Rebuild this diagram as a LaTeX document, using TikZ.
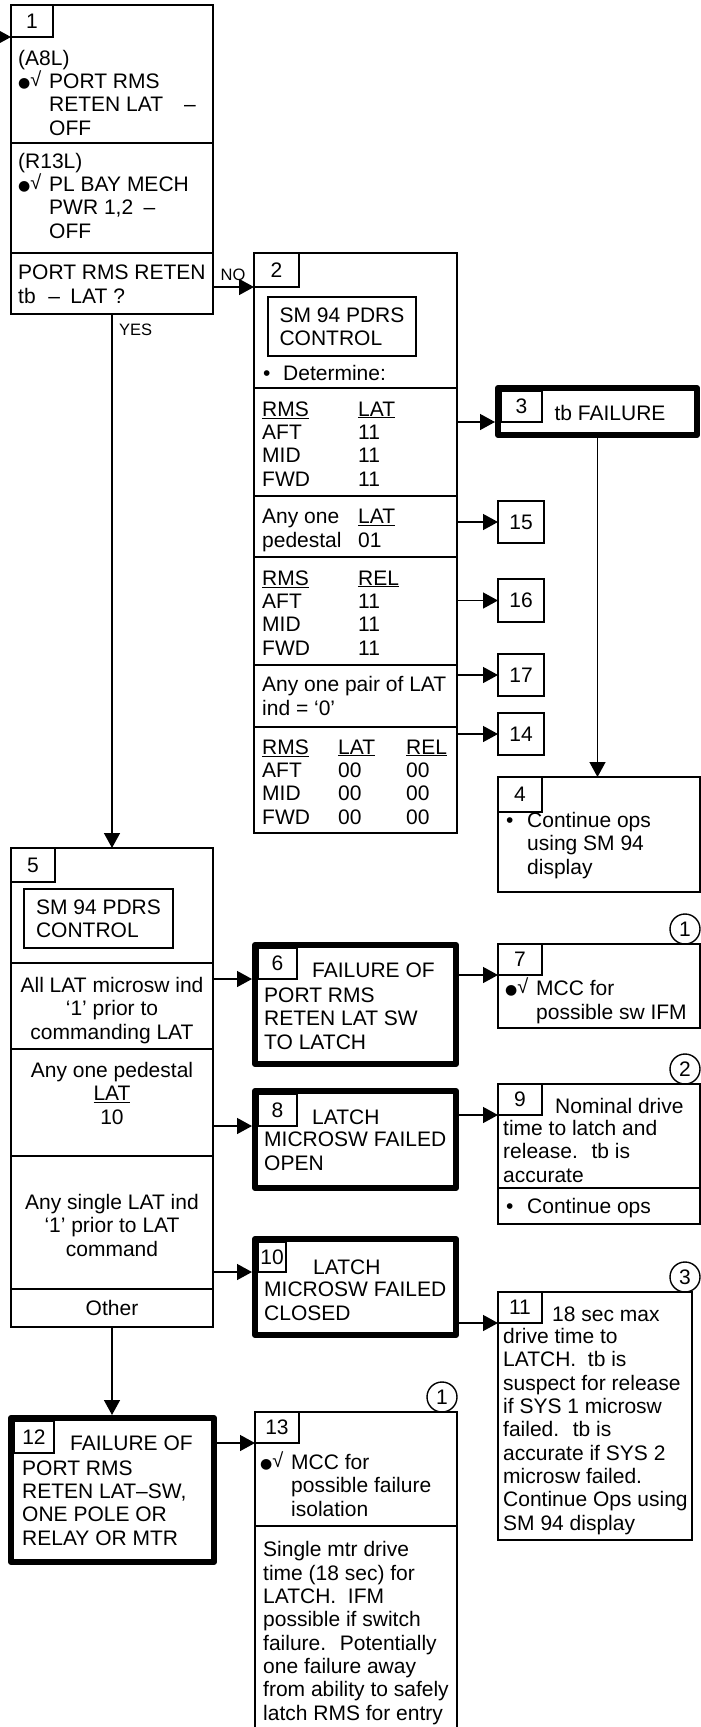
\documentclass[tikz,border=0pt]{standalone}
\usepackage{fontspec}
\setmainfont{Liberation Sans}
\newfontfamily\symfont{DejaVu Sans}
\usetikzlibrary{arrows.meta,positioning}
\newcommand{\bodyfont}{\fontsize{21}{23.3}\selectfont}
\newcommand{\tagfont}{\fontsize{16.5}{18}\selectfont}
\newcommand{\chk}{\makebox[31pt][l]{\raisebox{1pt}{\symfont\fontsize{14}{14}\selectfont ●}\raisebox{2pt}{\fontsize{20}{20}\selectfont √}}}
\newcommand{\ind}{\hspace*{31pt}}

\begin{document}
\begin{tikzpicture}[x=1pt, y=-1pt,
  panel/.style={draw, line width=1.4pt, anchor=north west, inner sep=0pt,
    outer sep=0pt, font=\bodyfont, align=left},
  heavy/.style={draw, line width=6pt, anchor=north west, inner sep=0pt,
    outer sep=3pt, line join=round},
  txt/.style={anchor=base west, align=left, inner sep=0pt, font=\bodyfont},
  ctr/.style={anchor=base, align=center, inner sep=0pt, font=\bodyfont},
  tag/.style={circle, draw, line width=1.4pt, minimum size=30pt, inner sep=0pt,
    font=\bodyfont},
  lbl/.style={inner sep=0pt, font=\tagfont},
  arrow/.style={-{Triangle[length=15pt, width=16pt]}, line width=1.4pt}]
\useasboundingbox (0,0) rectangle (701,1727);
\coordinate (entry) at (-10,37);
\node[panel, minimum width=202, minimum height=138] (s1a) at (11,5) {};
\node[panel, minimum width=202, minimum height=110] (s1b) at (11,143) {};
\node[panel, minimum width=202, minimum height=61] (s1c) at (11,253) {};
\node[panel, minimum width=42, minimum height=32] (t1) at (11,5) {1};
\node[txt] (x1a) at (18,135) {(A8L)\\\chk PORT RMS\\\ind RETEN LAT\hspace{1em}–\\\ind OFF};
\node[txt] (x1b) at (18,238) {(R13L)\\\chk PL BAY MECH\\\ind PWR 1,2\hspace{.5em}–\\\ind OFF};
\node[txt] (x1c) at (18,303) {PORT RMS RETEN\\tb\hspace{.6em}–\hspace{.5em}LAT ?};
\node[lbl] (no) at (233,275) {NO};
\node[lbl, anchor=west] (yes) at (119,330) {YES};

\node[panel, minimum width=203, minimum height=135] (s2a) at (254,253) {};
\node[panel, minimum width=203, minimum height=108] (s2b) at (254,388) {};
\node[panel, minimum width=203, minimum height=61] (s2c) at (254,496) {};
\node[panel, minimum width=203, minimum height=108] (s2d) at (254,557) {};
\node[panel, minimum width=203, minimum height=62] (s2e) at (254,665) {};
\node[panel, minimum width=203, minimum height=106] (s2f) at (254,727) {};
\node[panel, minimum width=45, minimum height=34] (t2) at (254,253) {2};
\node[panel, minimum width=148, minimum height=59] (m2) at (268,297) {SM 94 PDRS\\CONTROL};
\node[txt] (d2) at (263,380) {•};
\node[txt] (x2a) at (283,380) {Determine:};
\node[txt] (k2b) at (262,486) {\underline{RMS}\\AFT\\MID\\FWD};
\node[txt] (v2b) at (358,486) {\underline{LAT}\\11\\11\\11};
\node[txt] (k2c) at (262,547) {Any one\\pedestal};
\node[txt] (v2c) at (358,547) {\underline{LAT}\\01};
\node[txt] (k2d) at (262,655) {\underline{RMS}\\AFT\\MID\\FWD};
\node[txt] (v2d) at (358,655) {\underline{REL}\\11\\11\\11};
\node[txt] (x2e) at (262,715) {Any one pair of LAT\\ind = ‘0’};
\node[txt] (k2f) at (262,824) {\underline{RMS}\\AFT\\MID\\FWD};
\node[txt] (a2f) at (338,824) {\underline{LAT}\\00\\00\\00};
\node[txt] (r2f) at (406,824) {\underline{REL}\\00\\00\\00};

\node[heavy, minimum width=199, minimum height=47] (b3) at (495,385) {};
\node[panel, minimum width=41, minimum height=31] (t3) at (501,391) {3};
\node[ctr] (x3) at (610,420) {tb FAILURE};
\node[panel, minimum width=46, minimum height=42] (n15) at (498,501) {15};
\node[panel, minimum width=46, minimum height=43] (n16) at (498,579) {16};
\node[panel, minimum width=46, minimum height=42] (n17) at (498,654) {17};
\node[panel, minimum width=46, minimum height=42] (n14) at (498,713) {14};

\node[panel, minimum width=202, minimum height=115] (b4) at (498,777) {};
\node[panel, minimum width=44, minimum height=35] (t4) at (498,777) {4};
\node[txt] (d4) at (506,827) {•};
\node[txt] (x4) at (527,874) {Continue ops\\using SM 94\\display};

\node[panel, minimum width=202, minimum height=115] (s5a) at (11,848) {};
\node[panel, minimum width=202, minimum height=86] (s5b) at (11,963) {};
\node[panel, minimum width=202, minimum height=107] (s5c) at (11,1049) {};
\node[panel, minimum width=202, minimum height=133] (s5d) at (11,1156) {};
\node[panel, minimum width=202, minimum height=38] (s5e) at (11,1289) {};
\node[panel, minimum width=44, minimum height=34] (t5) at (11,848) {5};
\node[panel, minimum width=149, minimum height=59] (m5) at (24,889) {SM 94 PDRS\\CONTROL};
\node[ctr] (x5b) at (112,1039) {All LAT microsw ind\\‘1’ prior to\\commanding LAT};
\node[ctr] (x5c) at (112,1124) {Any one pedestal\\\underline{LAT}\\10};
\node[ctr] (x5d) at (112,1256) {Any single LAT ind\\‘1’ prior to LAT\\command};
\node[ctr] (x5e) at (112,1315) {Other};

\node[heavy, minimum width=201, minimum height=119] (b6) at (252,942) {};
\node[panel, minimum width=39, minimum height=31] (t6) at (258,948) {6};
\node[txt] (h6) at (312,977) {FAILURE OF};
\node[txt] (x6) at (264,1049) {PORT RMS\\RETEN LAT SW\\TO LATCH};

\node[panel, minimum width=202, minimum height=84] (b7) at (498,944) {};
\node[panel, minimum width=44, minimum height=31] (t7) at (498,944) {7};
\node[tag] (c7) at (685,929) {1};
\node[txt] (x7) at (505,1019) {\chk MCC for\\\ind possible sw IFM};

\node[heavy, minimum width=201, minimum height=97] (b8) at (252,1088) {};
\node[panel, minimum width=39, minimum height=32] (t8) at (258,1094) {8};
\node[txt] (h8) at (312,1124) {LATCH};
\node[txt] (x8) at (264,1170) {MICROSW FAILED\\OPEN};

\node[panel, minimum width=202, minimum height=104] (s9a) at (498,1084) {};
\node[panel, minimum width=202, minimum height=36] (s9b) at (498,1188) {};
\node[panel, minimum width=44, minimum height=31] (t9) at (498,1084) {9};
\node[tag] (c9) at (685,1069) {2};
\node[txt] (h9) at (555,1113) {Nominal drive};
\node[txt] (x9) at (503,1182) {time to latch and\\release.~ tb is\\accurate};
\node[txt] (d9) at (506,1213) {•};
\node[txt] (y9) at (527,1213) {Continue ops};

\node[heavy, minimum width=201, minimum height=96] (b10) at (252,1236) {};
\node[panel, minimum width=28, minimum height=30] (t10) at (258,1242) {10};
\node[txt] (h10) at (313,1274) {LATCH};
\node[txt] (x10) at (264,1320) {MICROSW FAILED\\CLOSED};

\node[panel, minimum width=194, minimum height=248] (b11) at (498,1292) {};
\node[panel, minimum width=44, minimum height=31] (t11) at (498,1292) {11};
\node[tag] (c11) at (685,1277) {3};
\node[txt] (h11) at (552,1321) {18 sec max};
\node[txt] (x11) at (503,1530) {drive time to\\LATCH.~ tb is\\suspect for release\\if SYS 1 microsw\\failed.~ tb is\\accurate if SYS 2\\microsw failed.\\Continue Ops using\\SM 94 display};

\node[heavy, minimum width=203, minimum height=144] (b12) at (8,1415) {};
\node[panel, minimum width=40, minimum height=32] (t12) at (14,1421) {12};
\node[txt] (h12) at (70,1450) {FAILURE OF};
\node[txt] (x12) at (22,1545) {PORT RMS\\RETEN LAT–SW,\\ONE POLE OR\\RELAY OR MTR};

\node[panel, minimum width=202, minimum height=114] (s13a) at (255,1412) {};
\node[panel, minimum width=202, minimum height=214] (s13b) at (255,1526) {};
\node[panel, minimum width=44, minimum height=31] (t13) at (255,1412) {13};
\node[tag] (c13) at (442,1397) {1};
\node[txt] (x13a) at (260,1516) {\chk MCC for\\\ind possible failure\\\ind isolation};
\node[txt] (x13b) at (263,1720) {Single mtr drive\\time (18 sec) for\\LATCH.~ IFM\\possible if switch\\failure.~ Potentially\\one failure away\\from ability to safely\\latch RMS for entry};

\draw[arrow] (entry) -- (s1a.west |- t1.south);
\draw[arrow] (s1c.east |- t2.south) -- (t2.south west);
\draw[arrow] (s1c.south) -- (s5a.north);
\draw[arrow] (s2b.east |- t3.south) -- (b3.west |- t3.south);
\draw[arrow] (s2c.east |- n15.west) -- (n15.west);
\draw[arrow] (s2d.east |- n16.west) -- (n16.west);
\draw[arrow] (s2e.east |- n17.west) -- (n17.west);
\draw[arrow] (s2f.east |- n14.west) -- (n14.west);
\draw[arrow] (b3.south) -- (b3.south |- b4.north);
\draw[arrow] (s5b.east |- t6.south) -- (b6.west |- t6.south);
\draw[arrow] (s5c.east |- t8.south) -- (b8.west |- t8.south);
\draw[arrow] (s5d.east |- t10.south) -- (b10.west |- t10.south);
\draw[arrow] (s5e.south) -- (s5e.south |- b12.north);
\draw[arrow] (b6.east |- t7.south) -- (t7.south west);
\draw[arrow] (b8.east |- t9.south) -- (t9.south west);
\draw[arrow] (b10.east |- t11.south) -- (t11.south west);
\draw[arrow] (b12.east |- t13.south) -- (t13.south west);
\end{tikzpicture}
\end{document}
